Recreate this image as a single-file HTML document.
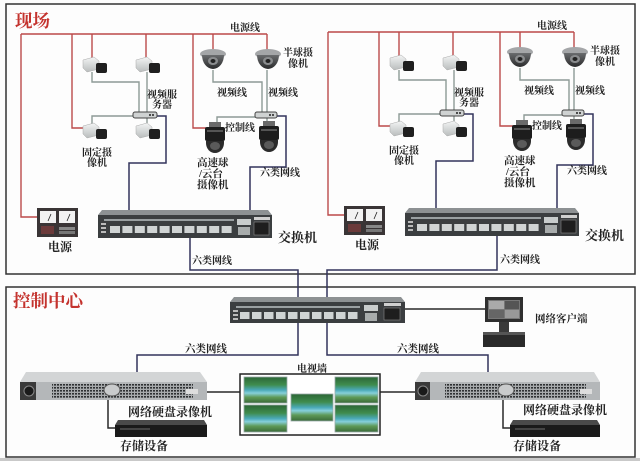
<!DOCTYPE html>
<html><head><meta charset="utf-8">
<style>
html,body{margin:0;padding:0;background:#fff;}
svg{display:block;}
text{font-family:"Liberation Serif","Noto Serif CJK SC",serif;font-weight:bold;fill:#222;}
.t10{font-size:10px;}
.t11{font-size:10.5px;}
.t12{font-size:12px;}
.t13{font-size:13px;}
.title{font-size:17.5px;fill:#c4332e;}
.red{stroke:#bb4a4a;stroke-width:1.4;fill:none;}
.vid{stroke:#8d9a96;stroke-width:1.4;fill:none;}
.net{stroke:#33345c;stroke-width:1.5;fill:none;}
.blk{stroke:#2a2a2a;stroke-width:1.5;fill:none;}
</style></head>
<body>
<svg width="640" height="461" viewBox="0 0 640 461" xmlns="http://www.w3.org/2000/svg">
<defs>
  <pattern id="grill" width="3" height="3" patternUnits="userSpaceOnUse">
    <rect width="3" height="3" fill="#a7aaac"/>
    <rect width="2" height="1.6" fill="#2e3032"/>
  </pattern>
  <linearGradient id="tv" x1="0" y1="0" x2="0" y2="1">
    <stop offset="0" stop-color="#2c6636"/>
    <stop offset="0.3" stop-color="#3f8c4e"/>
    <stop offset="0.5" stop-color="#4aa9b8"/>
    <stop offset="0.62" stop-color="#86d0da"/>
    <stop offset="0.78" stop-color="#5e9a58"/>
    <stop offset="1" stop-color="#3a6a38"/>
  </linearGradient>
  <linearGradient id="cam" x1="0" y1="0" x2="0" y2="1">
    <stop offset="0" stop-color="#f4f5f5"/>
    <stop offset="1" stop-color="#b9bdbd"/>
  </linearGradient>
  <linearGradient id="dome" x1="0" y1="0" x2="0" y2="1">
    <stop offset="0" stop-color="#6a6c6e"/>
    <stop offset="1" stop-color="#2a2b2c"/>
  </linearGradient>
</defs>

<rect x="0" y="0" width="640" height="461" fill="#fdfdfd"/>

<!-- boxes -->
<rect x="6" y="4" width="629" height="270" fill="none" stroke="#333" stroke-width="1.5"/>
<rect x="6" y="287" width="629" height="170" fill="none" stroke="#333" stroke-width="1.5"/>
<rect x="0" y="458" width="640" height="3" fill="#c9c9c9"/>

<text x="15" y="27" class="title">现场</text>
<text x="13" y="307" class="title">控制中心</text>

<!-- ========== LEFT FIELD GROUP ========== -->
<g id="gL">
  <!-- power lines -->
  <path class="red" d="M21,34 H267"/>
  <path class="red" d="M21,34 V217 H37"/>
  <path class="red" d="M72,34 V128 H84"/>
  <path class="red" d="M92,34 V58"/>
  <path class="red" d="M146,34 V58"/>
  <path class="red" d="M193,34 V128 H206"/>
  <path class="red" d="M213,34 V50"/>
  <path class="red" d="M267,34 V50"/>
  <!-- video lines -->
  <path class="vid" d="M92,72 V82 H139 V112"/>
  <path class="vid" d="M147,72 V112"/>
  <path class="vid" d="M92,125 V116 H133"/>
  <path class="vid" d="M147,123 V118"/>
  <path class="vid" d="M213,70 V82 H262 V112"/>
  <path class="vid" d="M267,70 V112"/>
  <path class="vid" d="M217,123 V117 H255"/>
  <path class="vid" d="M267,118 V122"/>
  <!-- network lines -->
  <path class="net" d="M157,116 H166 V163 H129 V210"/>
  <path class="net" d="M277,116 H286 V167 H250 V210"/>

  <!-- fixed cameras -->
  <g transform="translate(83,57)">
    <path d="M0,3 L11,0 L16,4 L16,12 L4,15 L0,11 Z" fill="url(#cam)" stroke="#aaa" stroke-width=".5"/>
    <rect x="13" y="6" width="11" height="10" rx="2" fill="#1f1f1f"/>
  </g>
  <g transform="translate(136,57)">
    <path d="M0,3 L11,0 L16,4 L16,12 L4,15 L0,11 Z" fill="url(#cam)" stroke="#aaa" stroke-width=".5"/>
    <rect x="13" y="6" width="11" height="10" rx="2" fill="#1f1f1f"/>
  </g>
  <g transform="translate(83,123)">
    <path d="M0,3 L11,0 L16,4 L16,12 L4,15 L0,11 Z" fill="url(#cam)" stroke="#aaa" stroke-width=".5"/>
    <rect x="13" y="6" width="11" height="10" rx="2" fill="#1f1f1f"/>
  </g>
  <g transform="translate(136,123)">
    <path d="M0,3 L11,0 L16,4 L16,12 L4,15 L0,11 Z" fill="url(#cam)" stroke="#aaa" stroke-width=".5"/>
    <rect x="13" y="6" width="11" height="10" rx="2" fill="#1f1f1f"/>
  </g>

  <!-- dome cameras -->
  <g transform="translate(200,48)">
    <ellipse cx="13" cy="6" rx="13" ry="5" fill="#a4a6a8"/>
    <path d="M2,7 A11,14 0 0 0 24,7 Z" fill="url(#dome)"/>
    <ellipse cx="13" cy="13" rx="5" ry="4" fill="#8a8c8e"/>
    <ellipse cx="13" cy="13" rx="2.5" ry="2" fill="#222"/>
  </g>
  <g transform="translate(255,48)">
    <ellipse cx="13" cy="6" rx="13" ry="5" fill="#a4a6a8"/>
    <path d="M2,7 A11,14 0 0 0 24,7 Z" fill="url(#dome)"/>
    <ellipse cx="13" cy="13" rx="5" ry="4" fill="#8a8c8e"/>
    <ellipse cx="13" cy="13" rx="2.5" ry="2" fill="#222"/>
  </g>

  <!-- hubs -->
  <rect x="133" y="112" width="24" height="6" rx="2" fill="#cfd2d2" stroke="#444" stroke-width="1"/>
  <circle cx="150" cy="115" r="1" fill="#222"/><circle cx="153" cy="115" r="1" fill="#222"/>
  <rect x="255" y="112" width="22" height="6" rx="2" fill="#cfd2d2" stroke="#444" stroke-width="1"/>
  <circle cx="270" cy="115" r="1" fill="#222"/><circle cx="273" cy="115" r="1" fill="#222"/>

  <!-- PTZ cameras -->
  <g transform="translate(205,122)">
    <rect x="4" y="0" width="12" height="5" fill="#6a6a6a"/>
    <rect x="0" y="5" width="20" height="14" rx="2" fill="#1d1d1d"/>
    <rect x="2" y="8" width="16" height="2" fill="#555"/>
    <path d="M1,19 H19 V21 A9,10 0 0 1 1,21 Z" fill="#2b2b2b"/>
    <ellipse cx="10" cy="24" rx="5" ry="4" fill="#5a5a5a"/>
  </g>
  <g transform="translate(259,121)">
    <rect x="4" y="0" width="12" height="5" fill="#6a6a6a"/>
    <rect x="0" y="5" width="20" height="14" rx="2" fill="#1d1d1d"/>
    <rect x="2" y="8" width="16" height="2" fill="#555"/>
    <path d="M1,19 H19 V21 A9,10 0 0 1 1,21 Z" fill="#2b2b2b"/>
    <ellipse cx="10" cy="24" rx="5" ry="4" fill="#5a5a5a"/>
  </g>

  <!-- power supply -->
  <g transform="translate(37,208)">
    <rect x="0" y="0" width="41" height="29" fill="#3a3536"/>
    <rect x="3" y="3" width="16" height="12" fill="#f2f2f2"/>
    <rect x="22" y="3" width="16" height="12" fill="#f2f2f2"/>
    <path d="M11,13 L14,6 M30,13 L33,6" stroke="#222" stroke-width=".8"/>
    <rect x="4" y="18" width="13" height="8" fill="#6b3a3a"/>
    <rect x="22" y="19" width="16" height="3" fill="#888"/>
    <rect x="22" y="23" width="16" height="3" fill="#777"/>
  </g>

  <!-- switch -->
  <polygon points="102,210 268,210 272,215 98,215" fill="#8d9193"/>
  <rect x="98" y="215" width="174" height="23" fill="#3b3e40"/>
  <rect x="104" y="219" width="130" height="2" fill="#9aa0a2"/>
  <rect x="101" y="223" width="5" height="2" fill="#bbb"/><rect x="101" y="227" width="5" height="2" fill="#bbb"/><rect x="101" y="231" width="5" height="2" fill="#bbb"/>
  <g fill="#d0d4d4">
    <rect x="110" y="226" width="10" height="7"/><rect x="122.4" y="226" width="10" height="7"/>
    <rect x="134.8" y="226" width="10" height="7"/><rect x="147.2" y="226" width="10" height="7"/>
    <rect x="159.6" y="226" width="10" height="7"/><rect x="172" y="226" width="10" height="7"/>
    <rect x="184.4" y="226" width="10" height="7"/><rect x="196.8" y="226" width="10" height="7"/>
    <rect x="209.2" y="226" width="10" height="7"/><rect x="221.6" y="226" width="10" height="7"/>
  </g>
  <rect x="237" y="219" width="14" height="6" fill="#c8cccc"/>
  <rect x="238" y="227" width="12" height="8" fill="#a8acac"/>
  <rect x="254" y="217" width="16" height="3" fill="#cfcfcf"/>
  <rect x="254" y="222" width="15" height="13" fill="#1e1e1e" stroke="#888" stroke-width=".6"/>

  <!-- labels -->
  <text x="230" y="31" class="t10">电源线</text>
  <text x="283" y="56" class="t10">半球摄</text>
  <text x="288" y="67" class="t10">像机</text>
  <text x="147" y="98" class="t10">视频服</text>
  <text x="152" y="108" class="t10">务器</text>
  <text x="217" y="96" class="t10">视频线</text>
  <text x="268" y="96" class="t10">视频线</text>
  <text x="225" y="131" class="t10">控制线</text>
  <text x="82" y="156" class="t10">固定摄</text>
  <text x="87" y="166" class="t10">像机</text>
  <text x="197" y="166" class="t11">高速球</text>
  <text x="199" y="177" class="t11">/云台</text>
  <text x="197" y="188" class="t11">摄像机</text>
  <text x="260" y="176" class="t10">六类网线</text>
  <text x="48" y="251" class="t12">电源</text>
  <text x="278" y="242" class="t13">交换机</text>
</g>

<!-- ========== RIGHT FIELD GROUP ========== -->
<g transform="translate(307,-2)">
  <path class="red" d="M21,34 H267"/>
  <path class="red" d="M21,34 V217 H37"/>
  <path class="red" d="M72,34 V128 H84"/>
  <path class="red" d="M92,34 V58"/>
  <path class="red" d="M146,34 V58"/>
  <path class="red" d="M193,34 V128 H206"/>
  <path class="red" d="M213,34 V50"/>
  <path class="red" d="M267,34 V50"/>
  <path class="vid" d="M92,72 V82 H139 V112"/>
  <path class="vid" d="M147,72 V112"/>
  <path class="vid" d="M92,125 V116 H133"/>
  <path class="vid" d="M147,123 V118"/>
  <path class="vid" d="M213,70 V82 H262 V112"/>
  <path class="vid" d="M267,70 V112"/>
  <path class="vid" d="M217,123 V117 H255"/>
  <path class="vid" d="M267,118 V122"/>
  <path class="net" d="M157,116 H166 V163 H129 V210"/>
  <path class="net" d="M277,116 H286 V167 H250 V210"/>

  <g transform="translate(83,57)">
    <path d="M0,3 L11,0 L16,4 L16,12 L4,15 L0,11 Z" fill="url(#cam)" stroke="#aaa" stroke-width=".5"/>
    <rect x="13" y="6" width="11" height="10" rx="2" fill="#1f1f1f"/>
  </g>
  <g transform="translate(136,57)">
    <path d="M0,3 L11,0 L16,4 L16,12 L4,15 L0,11 Z" fill="url(#cam)" stroke="#aaa" stroke-width=".5"/>
    <rect x="13" y="6" width="11" height="10" rx="2" fill="#1f1f1f"/>
  </g>
  <g transform="translate(83,123)">
    <path d="M0,3 L11,0 L16,4 L16,12 L4,15 L0,11 Z" fill="url(#cam)" stroke="#aaa" stroke-width=".5"/>
    <rect x="13" y="6" width="11" height="10" rx="2" fill="#1f1f1f"/>
  </g>
  <g transform="translate(136,123)">
    <path d="M0,3 L11,0 L16,4 L16,12 L4,15 L0,11 Z" fill="url(#cam)" stroke="#aaa" stroke-width=".5"/>
    <rect x="13" y="6" width="11" height="10" rx="2" fill="#1f1f1f"/>
  </g>

  <g transform="translate(200,48)">
    <ellipse cx="13" cy="6" rx="13" ry="5" fill="#a4a6a8"/>
    <path d="M2,7 A11,14 0 0 0 24,7 Z" fill="url(#dome)"/>
    <ellipse cx="13" cy="13" rx="5" ry="4" fill="#8a8c8e"/>
    <ellipse cx="13" cy="13" rx="2.5" ry="2" fill="#222"/>
  </g>
  <g transform="translate(255,48)">
    <ellipse cx="13" cy="6" rx="13" ry="5" fill="#a4a6a8"/>
    <path d="M2,7 A11,14 0 0 0 24,7 Z" fill="url(#dome)"/>
    <ellipse cx="13" cy="13" rx="5" ry="4" fill="#8a8c8e"/>
    <ellipse cx="13" cy="13" rx="2.5" ry="2" fill="#222"/>
  </g>

  <rect x="133" y="112" width="24" height="6" rx="2" fill="#cfd2d2" stroke="#444" stroke-width="1"/>
  <circle cx="150" cy="115" r="1" fill="#222"/><circle cx="153" cy="115" r="1" fill="#222"/>
  <rect x="255" y="112" width="22" height="6" rx="2" fill="#cfd2d2" stroke="#444" stroke-width="1"/>
  <circle cx="270" cy="115" r="1" fill="#222"/><circle cx="273" cy="115" r="1" fill="#222"/>

  <g transform="translate(205,122)">
    <rect x="4" y="0" width="12" height="5" fill="#6a6a6a"/>
    <rect x="0" y="5" width="20" height="14" rx="2" fill="#1d1d1d"/>
    <rect x="2" y="8" width="16" height="2" fill="#555"/>
    <path d="M1,19 H19 V21 A9,10 0 0 1 1,21 Z" fill="#2b2b2b"/>
    <ellipse cx="10" cy="24" rx="5" ry="4" fill="#5a5a5a"/>
  </g>
  <g transform="translate(259,121)">
    <rect x="4" y="0" width="12" height="5" fill="#6a6a6a"/>
    <rect x="0" y="5" width="20" height="14" rx="2" fill="#1d1d1d"/>
    <rect x="2" y="8" width="16" height="2" fill="#555"/>
    <path d="M1,19 H19 V21 A9,10 0 0 1 1,21 Z" fill="#2b2b2b"/>
    <ellipse cx="10" cy="24" rx="5" ry="4" fill="#5a5a5a"/>
  </g>

  <g transform="translate(37,208)">
    <rect x="0" y="0" width="41" height="29" fill="#3a3536"/>
    <rect x="3" y="3" width="16" height="12" fill="#f2f2f2"/>
    <rect x="22" y="3" width="16" height="12" fill="#f2f2f2"/>
    <path d="M11,13 L14,6 M30,13 L33,6" stroke="#222" stroke-width=".8"/>
    <rect x="4" y="18" width="13" height="8" fill="#6b3a3a"/>
    <rect x="22" y="19" width="16" height="3" fill="#888"/>
    <rect x="22" y="23" width="16" height="3" fill="#777"/>
  </g>

  <polygon points="102,210 268,210 272,215 98,215" fill="#8d9193"/>
  <rect x="98" y="215" width="174" height="23" fill="#3b3e40"/>
  <rect x="104" y="219" width="130" height="2" fill="#9aa0a2"/>
  <rect x="101" y="223" width="5" height="2" fill="#bbb"/><rect x="101" y="227" width="5" height="2" fill="#bbb"/><rect x="101" y="231" width="5" height="2" fill="#bbb"/>
  <g fill="#d0d4d4">
    <rect x="110" y="226" width="10" height="7"/><rect x="122.4" y="226" width="10" height="7"/>
    <rect x="134.8" y="226" width="10" height="7"/><rect x="147.2" y="226" width="10" height="7"/>
    <rect x="159.6" y="226" width="10" height="7"/><rect x="172" y="226" width="10" height="7"/>
    <rect x="184.4" y="226" width="10" height="7"/><rect x="196.8" y="226" width="10" height="7"/>
    <rect x="209.2" y="226" width="10" height="7"/><rect x="221.6" y="226" width="10" height="7"/>
  </g>
  <rect x="237" y="219" width="14" height="6" fill="#c8cccc"/>
  <rect x="238" y="227" width="12" height="8" fill="#a8acac"/>
  <rect x="254" y="217" width="16" height="3" fill="#cfcfcf"/>
  <rect x="254" y="222" width="15" height="13" fill="#1e1e1e" stroke="#888" stroke-width=".6"/>

  <text x="230" y="31" class="t10">电源线</text>
  <text x="283" y="56" class="t10">半球摄</text>
  <text x="288" y="67" class="t10">像机</text>
  <text x="147" y="98" class="t10">视频服</text>
  <text x="152" y="108" class="t10">务器</text>
  <text x="217" y="96" class="t10">视频线</text>
  <text x="268" y="96" class="t10">视频线</text>
  <text x="225" y="131" class="t10">控制线</text>
  <text x="82" y="156" class="t10">固定摄</text>
  <text x="87" y="166" class="t10">像机</text>
  <text x="197" y="166" class="t11">高速球</text>
  <text x="199" y="177" class="t11">/云台</text>
  <text x="197" y="188" class="t11">摄像机</text>
  <text x="260" y="176" class="t10">六类网线</text>
  <text x="48" y="251" class="t12">电源</text>
  <text x="278" y="242" class="t13">交换机</text>
</g>

<!-- uplinks to central switch -->
<path class="net" d="M190,238 V270 H298 V297"/>
<path class="net" d="M497,236 V270 H327 V297"/>
<text x="192" y="264" class="t10">六类网线</text>
<text x="500" y="263" class="t10">六类网线</text>

<!-- ========== CONTROL CENTER ========== -->
<path class="net" d="M298,323 V355 H137 V372"/>
<path class="net" d="M327,323 V355 H488 V372"/>
<path class="blk" d="M405,309 H487"/>
<path class="blk" d="M207,392 H240"/>
<path class="blk" d="M380,392 H417"/>
<path class="blk" d="M108,400 V428 H115"/>
<path class="blk" d="M503,400 V428 H510"/>

<!-- central switch -->
<polygon points="234,297 401,297 405,302 230,302" fill="#8d9193"/>
<rect x="230" y="302" width="175" height="21" fill="#3b3e40"/>
<rect x="236" y="306" width="124" height="2" fill="#9aa0a2"/>
<rect x="233" y="310" width="5" height="2" fill="#bbb"/><rect x="233" y="314" width="5" height="2" fill="#bbb"/><rect x="233" y="318" width="5" height="2" fill="#bbb"/>
<g fill="#d0d4d4">
  <rect x="240" y="312" width="9.5" height="7"/><rect x="252" y="312" width="9.5" height="7"/>
  <rect x="264" y="312" width="9.5" height="7"/><rect x="276" y="312" width="9.5" height="7"/>
  <rect x="288" y="312" width="9.5" height="7"/><rect x="300" y="312" width="9.5" height="7"/>
  <rect x="312" y="312" width="9.5" height="7"/><rect x="324" y="312" width="9.5" height="7"/>
  <rect x="336" y="312" width="9.5" height="7"/><rect x="348" y="312" width="9.5" height="7"/>
</g>
<rect x="364" y="305" width="14" height="6" fill="#c8cccc"/>
<rect x="365" y="313" width="12" height="8" fill="#a8acac"/>
<rect x="384" y="303" width="17" height="3" fill="#cfcfcf"/>
<rect x="384" y="308" width="16" height="12" fill="#1e1e1e" stroke="#888" stroke-width=".6"/>

<!-- network client -->
<rect x="485" y="297" width="38" height="25" fill="#2f2f2f"/>
<rect x="488" y="300" width="32" height="19" fill="#777"/>
<rect x="489" y="301" width="15" height="8" fill="#aaa"/><rect x="505" y="301" width="14" height="8" fill="#555"/>
<rect x="489" y="310" width="15" height="8" fill="#666"/><rect x="505" y="310" width="14" height="8" fill="#999"/>
<rect x="499" y="322" width="10" height="10" fill="#3a3a3a"/>
<rect x="483" y="332" width="42" height="15" fill="#2a2a2a"/>
<rect x="483" y="332" width="42" height="3" fill="#555"/>
<text x="535" y="322" class="t11">网络客户端</text>

<text x="185" y="352" class="t11">六类网线</text>
<text x="397" y="352" class="t11">六类网线</text>

<!-- left NVR -->
<polygon points="26,372 200,372 207,382 20,382" fill="#d3d5d6"/>
<rect x="20" y="382" width="187" height="18" fill="#b4b7b9"/>
<rect x="52" y="384" width="141" height="14" fill="url(#grill)"/>
<rect x="20" y="382" width="16" height="18" fill="#3a3a3a"/>
<circle cx="29" cy="391" r="5" fill="#1a1a1a" stroke="#888" stroke-width="1"/>
<ellipse cx="112" cy="390" rx="8" ry="6" fill="#c9cbcc" stroke="#555" stroke-width="1"/>
<rect x="186" y="389" width="12" height="5" fill="#ddd"/>
<text x="128" y="416" class="t12">网络硬盘录像机</text>
<!-- left storage -->
<polygon points="118,420 204,420 207,425 115,425" fill="#4a4a4a"/>
<rect x="115" y="425" width="92" height="12" fill="#1a1a1a"/>
<rect x="120" y="428" width="30" height="2" fill="#444"/>
<text x="120" y="450" class="t12">存储设备</text>

<!-- right NVR -->
<polygon points="421,372 594,372 600,382 415,382" fill="#d3d5d6"/>
<rect x="415" y="382" width="185" height="18" fill="#b4b7b9"/>
<rect x="445" y="384" width="141" height="14" fill="url(#grill)"/>
<rect x="415" y="382" width="15" height="18" fill="#3a3a3a"/>
<circle cx="423" cy="391" r="5" fill="#1a1a1a" stroke="#888" stroke-width="1"/>
<ellipse cx="506" cy="390" rx="8" ry="6" fill="#c9cbcc" stroke="#555" stroke-width="1"/>
<rect x="580" y="389" width="12" height="5" fill="#ddd"/>
<text x="523" y="414" class="t12">网络硬盘录像机</text>
<!-- right storage -->
<polygon points="513,420 597,420 600,425 510,425" fill="#4a4a4a"/>
<rect x="510" y="425" width="90" height="12" fill="#1a1a1a"/>
<rect x="515" y="428" width="30" height="2" fill="#444"/>
<text x="513" y="450" class="t12">存储设备</text>

<!-- TV wall -->
<text x="297" y="372" class="t10">电视墙</text>
<rect x="240" y="374" width="140" height="61" fill="#fff" stroke="#222" stroke-width="1.5"/>
<g stroke="#9aa" stroke-width="0.8">
  <rect x="244" y="377" width="43" height="26" fill="url(#tv)"/>
  <rect x="244" y="405" width="43" height="27" fill="url(#tv)"/>
  <rect x="291" y="394" width="42" height="27" fill="url(#tv)"/>
  <rect x="335" y="377" width="43" height="26" fill="url(#tv)"/>
  <rect x="335" y="405" width="43" height="27" fill="url(#tv)"/>
</g>
</svg>
</body></html>
